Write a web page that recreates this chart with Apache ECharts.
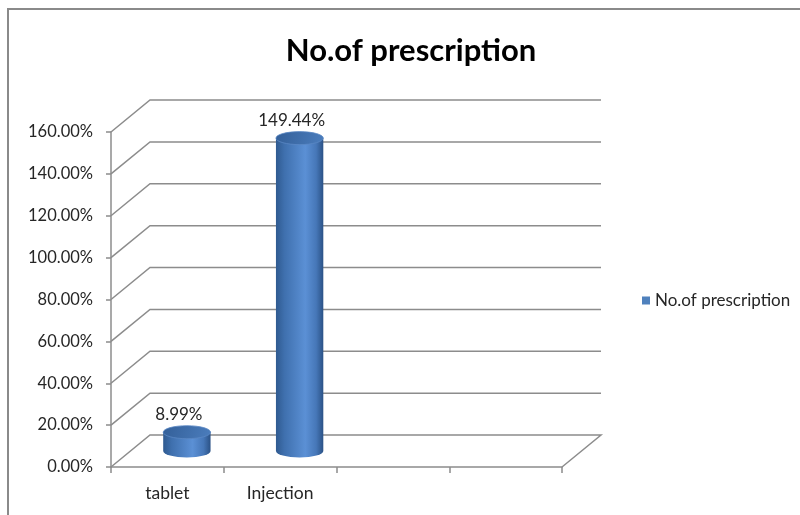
<!DOCTYPE html>
<html>
<head>
<meta charset="utf-8">
<script src="https://cdn.jsdelivr.net/npm/echarts@6/dist/echarts.min.js"></script>
<style>
  html, body { margin: 0; padding: 0; background: #ffffff; }
  #chart { width: 800px; height: 515px; }
</style>
</head>
<body>
<div id="chart"></div>
<script>
// Chart data
const categories = ['tablet', 'Injection', '', ''];
const seriesName = 'No.of prescription';
const values = [8.99, 149.44];
const valueTicks = [0, 20, 40, 60, 80, 100, 120, 140, 160];

// Oblique depth of the 3D box (pixels) and shared styling
const DEPTH_X = 39;
const DEPTH_Y = -32;
const FONT = 'Lato, "Liberation Sans", sans-serif';
const WALL = '#8c8c8c';
const TEXT = '#262626';

const chart = echarts.init(document.getElementById('chart'), null, { renderer: 'canvas' });

// Side wall + back wall grid line for one value tick
function wallItem(params, api) {
  const cs = params.coordSys;
  const v = api.value(1);
  const y = api.coord([0, v])[1];
  const x0 = cs.x;
  const x1 = cs.x + cs.width;
  const pts = [[x0, y], [x0 + DEPTH_X, y + DEPTH_Y], [x1 + DEPTH_X, y + DEPTH_Y]];
  if (v === valueTicks[0]) pts.push([x1, y]); // floor's right edge
  return {
    type: 'polyline',
    silent: true,
    shape: { points: pts },
    style: { stroke: WALL, lineWidth: 1.5, fill: null }
  };
}

// Cylinder standing in the middle of the depth
function cylinderItem(params, api) {
  const idx = api.value(0);
  const v = api.value(1);
  const base = api.coord([idx, 0]);
  const top = api.coord([idx, v]);
  const w = api.size([1, 0])[0] * 0.42;
  const rx = w / 2;
  const ry = 6.5;
  const cx = base[0] + DEPTH_X / 2;
  const by = base[1] + DEPTH_Y / 2;
  const ty = top[1] + DEPTH_Y / 2;

  const body = `M ${cx - rx} ${ty} L ${cx - rx} ${by} A ${rx} ${ry} 0 0 0 ${cx + rx} ${by} L ${cx + rx} ${ty} Z`;
  const cap = `M ${cx - rx} ${ty} A ${rx} ${ry} 0 1 0 ${cx + rx} ${ty} A ${rx} ${ry} 0 1 0 ${cx - rx} ${ty} Z`;

  return {
    type: 'group',
    children: [
      {
        type: 'path',
        shape: { pathData: body },
        style: {
          fill: new echarts.graphic.LinearGradient(0, 0, 1, 0, [
            { offset: 0, color: '#2f5a90' },
            { offset: 0.18, color: '#3f70ae' },
            { offset: 0.62, color: '#5b90d5' },
            { offset: 0.85, color: '#4677b8' },
            { offset: 1, color: '#2b5286' }
          ]),
          stroke: null
        }
      },
      {
        type: 'path',
        shape: { pathData: cap },
        style: {
          fill: new echarts.graphic.LinearGradient(0, 0, 1, 1, [
            { offset: 0, color: '#335f98' },
            { offset: 1, color: '#4b7dbd' }
          ]),
          stroke: '#5a88c4',
          lineWidth: 0.8
        }
      },
      {
        type: 'text',
        style: {
          text: v.toFixed(2) + '%',
          x: cx - 8,
          y: ty - ry - 3,
          align: 'center',
          verticalAlign: 'bottom',
          font: '17px ' + FONT,
          fill: TEXT
        }
      }
    ]
  };
}

const option = {
  backgroundColor: '#ffffff',
  animation: false,
  title: {
    text: seriesName,
    left: 406,
    top: 30,
    textAlign: 'center',
    textStyle: { fontFamily: FONT, fontSize: 31, fontWeight: 'bold', color: '#000000' }
  },
  legend: {
    data: [seriesName],
    left: 637,
    top: 287,
    icon: 'rect',
    itemWidth: 8,
    itemHeight: 8,
    itemGap: 6,
    textStyle: { fontFamily: FONT, fontSize: 17, color: TEXT }
  },
  grid: { left: 111, right: 238, top: 132, bottom: 48, containLabel: false },
  xAxis: {
    type: 'category',
    data: categories,
    axisLine: { show: true, lineStyle: { color: WALL, width: 1.5 } },
    axisTick: { show: true, length: 6, lineStyle: { color: WALL, width: 1.5 } },
    axisLabel: { fontFamily: FONT, fontSize: 17.5, color: TEXT, margin: 17 },
    splitLine: { show: false }
  },
  yAxis: {
    type: 'value',
    min: valueTicks[0],
    max: valueTicks[valueTicks.length - 1],
    interval: valueTicks[1] - valueTicks[0],
    axisLine: { show: true, lineStyle: { color: WALL, width: 1.5 } },
    axisTick: { show: true, length: 5, lineStyle: { color: WALL, width: 1.5 } },
    axisLabel: {
      fontFamily: FONT, fontSize: 16.5, color: TEXT, margin: 18,
      formatter: v => v.toFixed(2) + '%'
    },
    splitLine: { show: false }
  },
  graphic: [{
    type: 'rect',
    silent: true,
    shape: { x: 8, y: 9, width: 900, height: 600 },
    style: { fill: null, stroke: '#8a8a8a', lineWidth: 2 }
  }],
  series: [
    {
      name: 'walls',
      type: 'custom',
      renderItem: wallItem,
      data: valueTicks.map(v => [0, v]),
      encode: { x: 0, y: 1 },
      silent: true,
      z: 1
    },
    {
      name: seriesName,
      type: 'custom',
      renderItem: cylinderItem,
      data: values.map((v, i) => [i, v]),
      encode: { x: 0, y: 1 },
      itemStyle: { color: '#4f81bd' },
      z: 3
    }
  ]
};

chart.setOption(option);
</script>
</body>
</html>
